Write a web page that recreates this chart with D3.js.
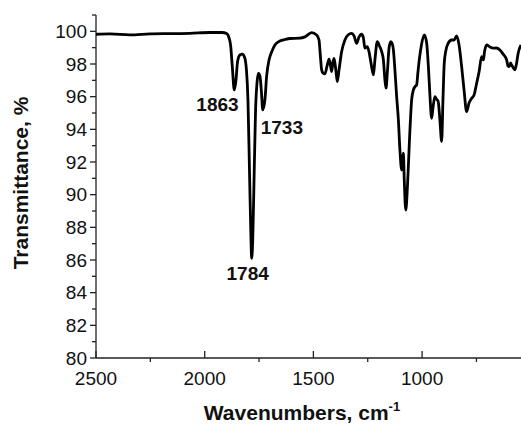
<!DOCTYPE html>
<html lang="en">
<head>
  <meta charset="UTF-8">
  <title>IR Spectrum</title>
  <script src="https://d3js.org/d3.v7.min.js"></script>
  <style>
    body { margin: 0; background: #fff; }
    svg { display: block; font-family: Arial, "Liberation Sans", sans-serif; }
    .tick-label { font-size: 19px; fill: #111; }
    .axis-title { font-size: 21px; font-weight: bold; fill: #111; }
    .peak-label { font-size: 19px; font-weight: bold; fill: #111; }
  </style>
</head>
<body>
  <script>
    // spectrum (wavenumber in cm-1, transmittance in %)
    const wavenumbers = [2500, 2436, 2344, 2252, 2160, 2068, 1976, 1920, 1899, 1888, 1881, 1873, 1864, 1856, 1849, 1838, 1827, 1817, 1808, 1801, 1794, 1787, 1784, 1779, 1773, 1766, 1759, 1753, 1746, 1739, 1733, 1723, 1715, 1704, 1692, 1677, 1654, 1631, 1608, 1562, 1539, 1508, 1485, 1474, 1470, 1462, 1456, 1447, 1437, 1428, 1421, 1416, 1410, 1405, 1398, 1390, 1382, 1370, 1355, 1341, 1324, 1313, 1301, 1290, 1278, 1270, 1263, 1252, 1244, 1235, 1224, 1217, 1206, 1196, 1186, 1178, 1171, 1166, 1159, 1152, 1144, 1137, 1132, 1125, 1117, 1109, 1102, 1094, 1090, 1086, 1082, 1075, 1067, 1058, 1048, 1040, 1033, 1025, 1019, 1013, 1003, 990, 979, 971, 964, 956, 950, 941, 934, 926, 918, 910, 904, 898, 890, 880, 864, 853, 841, 830, 818, 807, 795, 784, 772, 761, 749, 738, 726, 718, 713, 703, 688, 672, 658, 642, 628, 611, 605, 599, 593, 588, 580, 573, 566, 558, 545];
    const transmittance = [99.82, 99.84, 99.78, 99.84, 99.86, 99.88, 99.93, 99.93, 99.87, 99.6, 99.17, 97.84, 96.41, 97.02, 98.13, 98.55, 98.6, 98.43, 97.64, 95.8, 91.5, 87.22, 86.1, 87.22, 90.9, 95.19, 96.9, 97.42, 97.27, 96.29, 95.19, 95.8, 97.27, 98.25, 98.74, 99.17, 99.41, 99.5, 99.56, 99.58, 99.66, 99.92, 99.78, 99.47, 98.86, 97.64, 97.45, 97.39, 97.88, 98.29, 97.88, 97.53, 98.13, 98.35, 97.76, 96.92, 97.64, 98.76, 99.47, 99.78, 99.88, 99.72, 99.27, 99.66, 99.82, 99.6, 98.97, 99.06, 98.74, 98.06, 97.33, 98.25, 99.37, 99.1, 98.76, 98.25, 97.02, 96.52, 97.64, 98.98, 99.37, 99.23, 98.86, 97.64, 96.0, 94.57, 92.74, 91.51, 92.12, 92.54, 90.9, 89.06, 90.59, 93.35, 95.8, 96.41, 96.61, 96.72, 97.51, 98.25, 99.17, 99.78, 99.29, 97.84, 96.1, 94.68, 95.31, 96.0, 95.86, 95.7, 94.57, 93.25, 95.8, 98.05, 98.86, 99.27, 99.47, 99.47, 99.72, 99.17, 97.84, 96.41, 95.08, 95.61, 95.9, 96.1, 96.82, 97.51, 98.45, 98.25, 98.74, 99.17, 99.04, 98.97, 98.98, 98.86, 98.62, 98.25, 97.88, 97.84, 98.06, 97.94, 97.76, 97.64, 98.0, 98.66, 99.17];

    const xMajor = [2500, 2000, 1500, 1000];
    const xMinor = [2250, 1750, 1250, 750];
    const yMajor = [80, 82, 84, 86, 88, 90, 92, 94, 96, 98, 100];
    const yMinor = [81, 83, 85, 87, 89, 91, 93, 95, 97, 99, 101];

    // peak labels: wavenumber and transmittance at the peak
    const peakNames = ["1863", "1784", "1733"];
    const peakWn = [1863, 1784, 1733];
    const peakT = [96.41, 86.1, 95.19];

    const width = 521, height = 424;
    const margin = { top: 15, right: 0, bottom: 66, left: 96 };

    const svg = d3.select("body").append("svg")
      .attr("width", width)
      .attr("height", height);

    const x = d3.scaleLinear().domain([2500, 545]).range([margin.left, width - margin.right]);
    const y = d3.scaleLinear().domain([80, 101]).range([height - margin.bottom, margin.top]);

    const data = wavenumbers.map((w, i) => ({ w, t: transmittance[i] }));

    // axes lines
    const y0 = y(80), x0 = x(2500);
    svg.append("line")
      .attr("x1", x0).attr("x2", width)
      .attr("y1", y0).attr("y2", y0)
      .attr("stroke", "#222").attr("stroke-width", 1.3);
    svg.append("line")
      .attr("x1", x0).attr("x2", x0)
      .attr("y1", y0).attr("y2", y(101))
      .attr("stroke", "#222").attr("stroke-width", 1.3);

    // x ticks
    svg.selectAll(".xmaj").data(xMajor).enter().append("line")
      .attr("x1", d => x(d)).attr("x2", d => x(d))
      .attr("y1", y0).attr("y2", y0 - 7)
      .attr("stroke", "#222").attr("stroke-width", 1.3);
    svg.selectAll(".xmin").data(xMinor).enter().append("line")
      .attr("x1", d => x(d)).attr("x2", d => x(d))
      .attr("y1", y0).attr("y2", y0 + 4)
      .attr("stroke", "#222").attr("stroke-width", 1.3);
    svg.selectAll(".xlab").data(xMajor).enter().append("text")
      .attr("class", "tick-label")
      .attr("x", d => x(d))
      .attr("y", y0 + 27)
      .attr("text-anchor", "middle")
      .text(d => d);

    // y ticks
    svg.selectAll(".ymaj").data(yMajor).enter().append("line")
      .attr("x1", x0 - 6).attr("x2", x0)
      .attr("y1", d => y(d)).attr("y2", d => y(d))
      .attr("stroke", "#222").attr("stroke-width", 1.3);
    svg.selectAll(".ymin").data(yMinor).enter().append("line")
      .attr("x1", x0 - 4).attr("x2", x0)
      .attr("y1", d => y(d)).attr("y2", d => y(d))
      .attr("stroke", "#222").attr("stroke-width", 1.3);
    svg.selectAll(".ylab").data(yMajor).enter().append("text")
      .attr("class", "tick-label")
      .attr("x", x0 - 9)
      .attr("y", d => y(d))
      .attr("dy", "0.35em")
      .attr("text-anchor", "end")
      .text(d => d);

    // spectrum
    const line = d3.line()
      .x(d => x(d.w))
      .y(d => y(d.t))
      .curve(d3.curveMonotoneX);

    svg.append("path")
      .datum(data)
      .attr("fill", "none")
      .attr("stroke", "#000")
      .attr("stroke-width", 2.8)
      .attr("stroke-linejoin", "round")
      .attr("d", line);

    // peak labels
    const labelOffsets = [
      { dx: -17, dy: 21, anchor: "middle" },
      { dx: -4, dy: 22, anchor: "middle" },
      { dx: -2, dy: 24, anchor: "start" }
    ];
    svg.selectAll(".peak").data(peakNames).enter().append("text")
      .attr("class", "peak-label")
      .attr("x", (d, i) => x(peakWn[i]) + labelOffsets[i].dx)
      .attr("y", (d, i) => y(peakT[i]) + labelOffsets[i].dy)
      .attr("text-anchor", (d, i) => labelOffsets[i].anchor)
      .text(d => d);

    // axis titles
    const xt = svg.append("text")
      .attr("class", "axis-title")
      .attr("x", 302)
      .attr("y", 420)
      .attr("text-anchor", "middle");
    xt.append("tspan").text("Wavenumbers, cm");
    xt.append("tspan").attr("dy", -9).style("font-size", "13px").text("-1");

    svg.append("text")
      .attr("class", "axis-title")
      .attr("transform", "translate(28,183) rotate(-90)")
      .attr("text-anchor", "middle")
      .text("Transmittance, %");
  </script>
</body>
</html>
